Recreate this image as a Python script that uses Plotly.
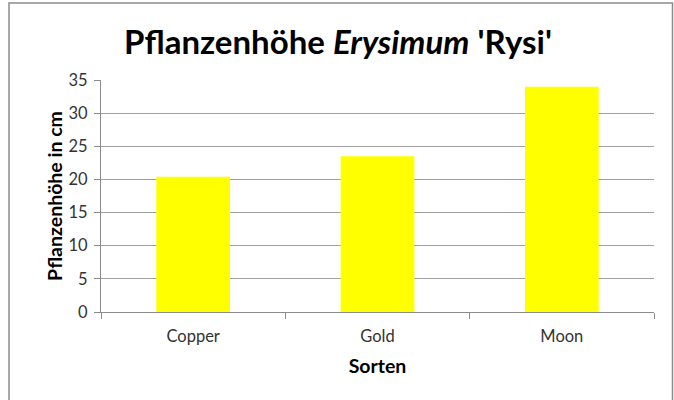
import plotly.graph_objects as go

categories = ["Copper", "Gold", "Moon"]
heights = [20.4, 23.5, 34.0]
y_ticks = [0, 5, 10, 15, 20, 25, 30, 35]

W, H = 674, 400
L, R, T, B = 101, 20, 80, 88
pw, ph = W - L - R, H - T - B

font_family = "Lato, 'Open Sans', sans-serif"

fig = go.Figure(go.Bar(
    x=categories, y=heights, width=0.4,
    marker=dict(color="#FFFF00", line=dict(width=0)),
))

def px_x(p):
    return (p - L) / pw

def px_y(p):
    return (H - B - p) / ph

fig.update_layout(
    width=W, height=H,
    margin=dict(l=L, r=R, t=T, b=B, pad=0, autoexpand=False),
    paper_bgcolor="white", plot_bgcolor="white",
    showlegend=False,
    font=dict(family=font_family, color="#000000"),
    title=dict(
        text="<b>Pflanzenhöhe <i>Erysimum</i> 'Rysi'</b>",
        x=338 / W, xref="container", xanchor="center",
        y=1 - 42 / H, yref="container", yanchor="middle",
        font=dict(size=33, family=font_family, color="#000000"),
    ),
    xaxis=dict(
        range=[-0.5, 2.5],
        showline=True, linecolor="#8c8c8c", linewidth=1,
        ticks="outside", ticklen=6, tickcolor="#8c8c8c", tickson="boundaries",
        showgrid=False,
        tickfont=dict(size=16.5, color="#333333"),
        ticklabelstandoff=9,
        title=dict(text="<b>Sorten</b>", font=dict(size=19.5), standoff=14),
        fixedrange=True,
    ),
    yaxis=dict(
        range=[0, 35], tickvals=y_ticks,
        showline=True, linecolor="#8c8c8c", linewidth=1,
        ticks="outside", ticklen=6, tickcolor="#8c8c8c",
        showgrid=True, gridcolor="#a0a0a0", gridwidth=1,
        zeroline=False,
        tickfont=dict(size=16.5, color="#333333"),
        ticklabelstandoff=3,
        title=dict(text="<b>Pflanzenhöhe in cm</b>", font=dict(size=19.5), standoff=0),
        fixedrange=True,
    ),
    shapes=[dict(
        type="rect", xref="paper", yref="paper",
        x0=px_x(9), x1=px_x(672.5), y0=px_y(401), y1=px_y(3),
        line=dict(color="#8c8c8c", width=1.5), fillcolor="rgba(0,0,0,0)",
        layer="below",
    )],
)

fig.write_html("out.html", config={"displayModeBar": False},
               post_script="document.body.style.margin='0';")
